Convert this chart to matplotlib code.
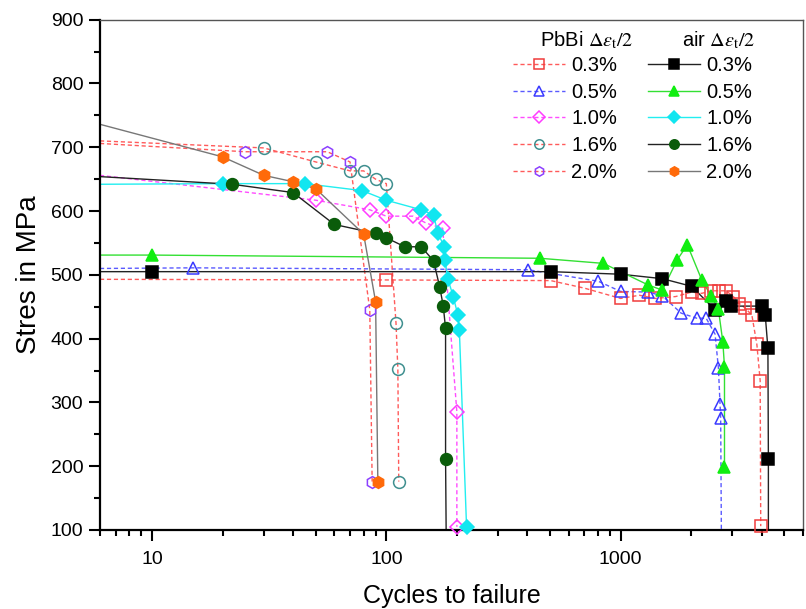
import matplotlib
matplotlib.use("Agg")
import matplotlib.pyplot as plt
from matplotlib.lines import Line2D
from matplotlib.ticker import LogLocator, MultipleLocator, FixedLocator, NullFormatter

plt.rcParams['font.family'] = ['Liberation Sans', 'DejaVu Sans']
plt.rcParams['mathtext.fontset'] = 'stix'

# ---- data: cycles to failure (N) and stress amplitude (MPa) ----
x_limits = (6, 6000)
y_limits = (100, 900)

# PbBi environment
pbbi_03_n = [100, 503, 703, 1000, 1202, 1402, 1718, 2009, 2219, 2432, 2630, 2818, 3027, 3212, 3398, 3630, 3813, 3939, 3961]
pbbi_03_s = [492, 491, 479, 463, 468, 463, 466, 473, 471, 475, 475, 475, 466, 455, 448, 437, 391, 334, 106]
pbbi_03_start = 493

pbbi_05_n = [15, 403, 802, 1000, 1313, 1507, 1811, 2114, 2317, 2529, 2613, 2655, 2672]
pbbi_05_s = [511, 508, 490, 474, 473, 467, 440, 432, 432, 407, 354, 298, 275]
pbbi_05_start = 510
pbbi_05_end_n = 2690

pbbi_10_n = [50, 85, 100, 130, 148, 174, 200, 200]
pbbi_10_s = [617, 602, 592, 592, 581, 573, 285, 105]
pbbi_10_start = 656

pbbi_16_n = [30, 50, 70, 80, 90, 100, 110, 112, 113]
pbbi_16_s = [699, 677, 663, 663, 650, 643, 424, 352, 176]
pbbi_16_start = 710

pbbi_20_n = [25, 56, 70, 85, 87]
pbbi_20_s = [693, 693, 677, 445, 176]
pbbi_20_start = 706

# air environment
air_03_n = [10, 503, 1000, 1507, 2009, 2529, 2818, 2951, 4027, 4140, 4250, 4270]
air_03_s = [505, 505, 501, 494, 482, 445, 459, 451, 451, 437, 385, 211]
air_03_start = 505
air_03_end_n = 4270

air_05_n = [10, 452, 843, 1313, 1507, 1746, 1926, 2219, 2432, 2613, 2729, 2774, 2774]
air_05_s = [531, 526, 518, 484, 476, 524, 547, 492, 467, 446, 395, 356, 199]
air_05_start = 531

air_10_n = [20, 45, 79, 100, 141, 159, 166, 177, 178, 183, 193, 202, 205, 220]
air_10_s = [643, 643, 632, 617, 602, 594, 565, 544, 523, 494, 466, 437, 413, 105]
air_10_start = 642

air_16_n = [22, 40, 60, 90, 100, 120, 141, 159, 169, 175, 179, 179]
air_16_s = [642, 629, 579, 565, 558, 544, 544, 522, 481, 451, 416, 211]
air_16_start = 654
air_16_end_n = 180

air_20_n = [20, 30, 40, 50, 80, 90, 92]
air_20_s = [685, 656, 646, 635, 564, 458, 176]
air_20_start = 736

levels = ['0.3%', '0.5%', '1.0%', '1.6%', '2.0%']

dash = (0, (3, 2))
ms = 8.5

pbbi_series = [
    (pbbi_03_n, pbbi_03_s, pbbi_03_start, None, 's', '#f03c3c', '#ff5a5a'),
    (pbbi_05_n, pbbi_05_s, pbbi_05_start, pbbi_05_end_n, '^', '#3a3aff', '#5a5aff'),
    (pbbi_10_n, pbbi_10_s, pbbi_10_start, None, 'D', '#ff3cff', '#ff4cff'),
    (pbbi_16_n, pbbi_16_s, pbbi_16_start, None, 'o', '#3f8f8f', '#ff5a5a'),
    (pbbi_20_n, pbbi_20_s, pbbi_20_start, None, 'h', '#8c40ff', '#ff5a5a'),
]
air_series = [
    (air_03_n, air_03_s, air_03_start, air_03_end_n, 's', '#000000', '#222222'),
    (air_05_n, air_05_s, air_05_start, None, '^', '#11ee11', '#33e033'),
    (air_10_n, air_10_s, air_10_start, None, 'D', '#11e6f0', '#22eef0'),
    (air_16_n, air_16_s, air_16_start, air_16_end_n, 'o', '#0a5c0a', '#222222'),
    (air_20_n, air_20_s, air_20_start, None, 'h', '#ff6a0a', '#777777'),
]

fig = plt.figure(figsize=(8.06, 6.09), dpi=100)
ax = fig.add_axes([100 / 806, 1 - 530 / 609, 703 / 806, 510.3 / 609])


def draw(series, filled, ls):
    handles = []
    for n, s, start, end_n, mk, mcol, lcol in series:
        xs = [x_limits[0]] + list(n)
        ys = [start] + list(s)
        if end_n is not None:
            xs.append(end_n)
            ys.append(y_limits[0])
        ax.plot(xs, ys, color=lcol, lw=1.0, ls=ls, zorder=2, clip_on=True)
        msz = ms * (0.85 if mk == 'D' else 1.0)
        face = mcol if filled else 'none'
        ax.plot(n, s, ls='none', marker=mk, ms=msz, mfc=face, mec=mcol,
                mew=1.1, zorder=3, clip_on=False)
        handles.append(Line2D([], [], color=lcol, lw=1.0, ls=ls, marker=mk,
                              ms=msz * 0.8, mfc=face, mec=mcol, mew=1.1))
    return handles


h_pbbi = draw(pbbi_series, False, dash)
h_air = draw(air_series, True, '-')

ax.set_xscale('log')
ax.set_xlim(*x_limits)
ax.set_ylim(*y_limits)
ax.xaxis.set_major_locator(FixedLocator([10, 100, 1000]))
ax.xaxis.set_minor_locator(LogLocator(base=10, subs=range(2, 10), numticks=20))
ax.xaxis.set_minor_formatter(NullFormatter())
ax.set_xticklabels(['10', '100', '1000'])
ax.yaxis.set_major_locator(MultipleLocator(100))
ax.yaxis.set_minor_locator(MultipleLocator(50))
ax.tick_params(which='major', direction='out', length=8, width=1.5, labelsize=14, pad=4)
ax.tick_params(axis='x', which='major', pad=7)
ax.tick_params(which='minor', direction='out', length=4.5, width=1.5)
for side in ['left', 'bottom']:
    ax.spines[side].set_linewidth(1.6)
for side in ['top', 'right']:
    ax.spines[side].set_linewidth(1.0)
    ax.spines[side].set_color('#555555')

ax.set_xlabel('Cycles to failure', fontsize=18, labelpad=12)
ax.set_ylabel('Stres in MPa', fontsize=20, labelpad=6)

leg = ax.legend(h_pbbi + h_air, levels + levels, ncol=2, frameon=False,
                loc='upper left', bbox_to_anchor=(513 / 806, 1 - 56 / 609),
                bbox_transform=fig.transFigure, borderpad=0, borderaxespad=0,
                fontsize=14.5, handlelength=2.6, handletextpad=0.3,
                columnspacing=1.5, labelspacing=0.38)

fig.text(540 / 806, 1 - 40 / 609, r'PbBi $\Delta\varepsilon_{\mathrm{t}}/2$', fontsize=14.5,
         va='center', ha='left')
fig.text(682 / 806, 1 - 40 / 609, r'air $\Delta\varepsilon_{\mathrm{t}}/2$', fontsize=14.5,
         va='center', ha='left')

fig.savefig('out.png', dpi=100)
